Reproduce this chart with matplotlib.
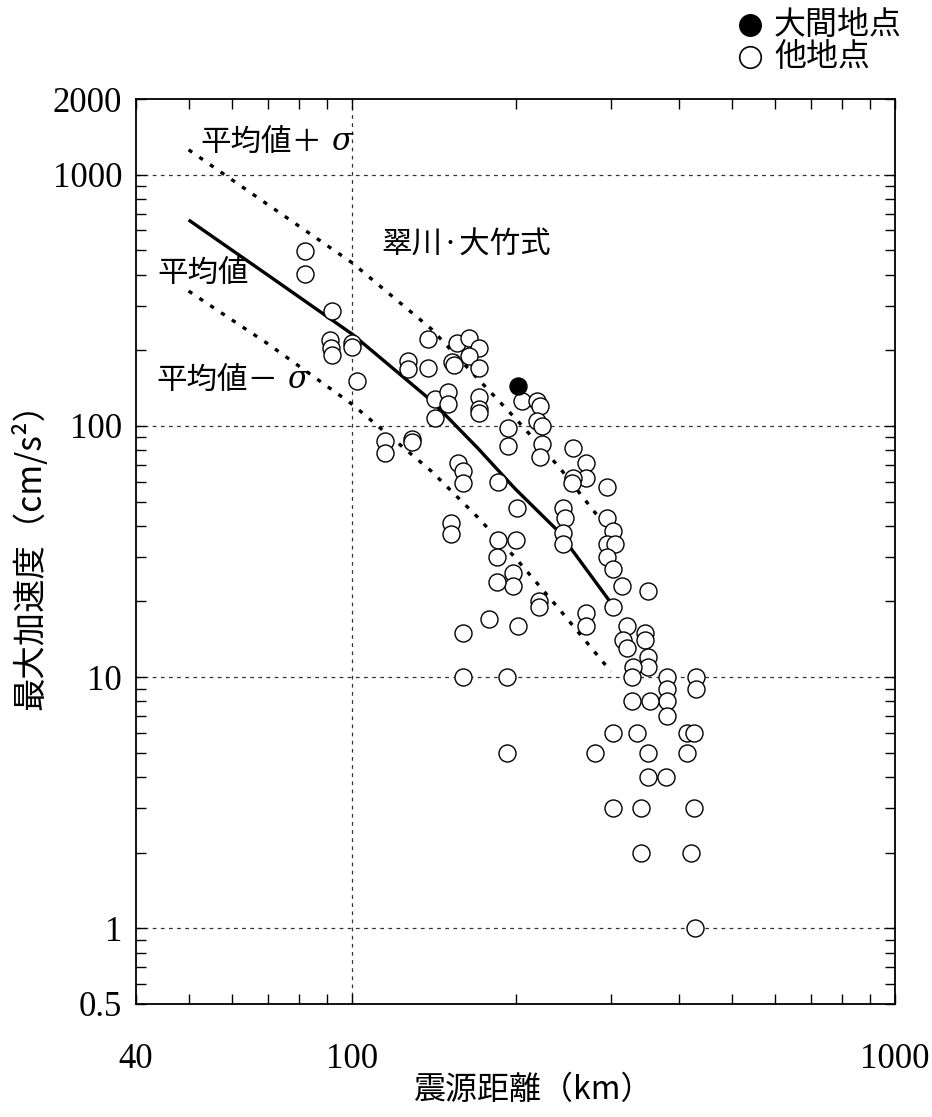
import matplotlib
matplotlib.use("Agg")
import matplotlib.pyplot as plt
from matplotlib.ticker import FixedLocator, FixedFormatter, NullFormatter

# ---- data -------------------------------------------------------------
# 他地点: hypocentral distance (km) and peak acceleration (cm/s^2)
other_dist = [82, 82, 92, 91, 91.5, 92, 100, 100, 102,
              138, 156, 164, 171, 164, 153, 154, 127, 127, 138, 171,
              142, 150, 150, 171, 171, 171, 142,
              206, 219, 222, 219, 224, 194, 194, 224, 222, 255,
              115, 115, 129, 129, 157, 160, 160, 186,
              201, 152, 152, 186, 200, 185, 198, 198, 185, 221, 221,
              245, 247, 245, 245, 270, 270, 255, 254,
              295, 295, 303, 295, 305, 295, 303, 314, 351, 303, 270, 270,
              179, 202, 160, 160, 193,
              321, 316, 321, 347, 347, 351, 351, 329, 328,
              380, 380, 380, 380, 430, 430, 328, 354,
              303, 335, 414, 427, 280, 351, 414, 193, 351, 379,
              303, 341, 427, 341, 421, 428]
other_pga = [497, 403, 287, 220, 204, 192, 214, 206, 151,
             222, 214, 224, 204, 190, 180, 175, 181, 169, 170, 170,
             128, 137, 122, 130, 117, 113, 107,
             126, 126, 120, 105, 100, 98, 83, 85, 75, 82,
             87, 78, 89, 86, 71, 66, 59, 60,
             47, 41, 37, 35, 35, 30, 26, 23, 24, 20, 19,
             47, 43, 37.5, 34, 71, 62, 62, 59,
             57, 43, 38, 34, 34, 30, 27, 23, 22, 19, 18, 16,
             17, 16, 15, 10, 10,
             16, 14, 13, 15, 14, 12, 11, 11, 10,
             10, 9, 8, 7, 10, 9, 8, 8,
             6, 6, 6, 6, 5, 5, 5, 5, 4, 4,
             3, 3, 3, 2, 2, 1]

# 大間地点
oma_dist = [202]
oma_pga = [144]

# 翠川・大竹式: mean and mean ± sigma
curve_dist = [50, 70, 100, 140, 170, 200, 240, 300]
curve_mean = [660, 398, 232, 126, 82, 56, 38, 19.7]
curve_plus = [1256, 759, 446, 243, 155, 107, 69, 37.5]
curve_minus = [344, 212, 122, 66, 43.5, 29.8, 18.8, 10.5]

y_tick_vals = [0.5, 1, 10, 100, 1000, 2000]
y_tick_text = ["0.5", "1", "10", "100", "1000", "2000"]
x_tick_vals = [40, 100, 1000]
x_tick_text = ["40", "100", "1000"]

# ---- figure -----------------------------------------------------------
W, H = 932, 1117
fig = plt.figure(figsize=(W / 100, H / 100), dpi=100)
ax = fig.add_axes([136 / W, 1 - 1004 / H, (895 - 136) / W, (1004 - 99) / H])

jp = ["Noto Sans CJK JP", "DejaVu Sans"]
num_font = "Liberation Serif"

ax.set_xscale("log")
ax.set_yscale("log")
ax.set_xlim(40, 1000)
ax.set_ylim(0.5, 2000)

# reference grid
grid_kw = dict(color="#333333", lw=0.9, dashes=(3, 3.5), zorder=1)
for yv in [1, 10, 100, 1000]:
    ax.axhline(yv, **grid_kw)
ax.axvline(100, **grid_kw)

# attenuation curves
ax.plot(curve_dist, curve_mean, color="black", lw=2.4, zorder=2,
        solid_capstyle="butt")
for yy in (curve_plus, curve_minus):
    ax.plot(curve_dist, yy, color="black", lw=2.4, zorder=2,
            linestyle=(0, (1.3, 2.6)))

# observations
ax.scatter(other_dist, other_pga, s=150, facecolor="white",
           edgecolor="black", linewidth=1.0, zorder=3)
ax.scatter(oma_dist, oma_pga, s=150, facecolor="black",
           edgecolor="black", linewidth=1.0, zorder=4)

# ticks
minor_x = [v * d for d in (10, 100) for v in range(2, 10) if 40 < v * d < 1000]
minor_y = [v * d for d in (0.1, 1, 10, 100) for v in range(2, 10)
           if 0.5 < v * d < 1000]
ax.xaxis.set_major_locator(FixedLocator(x_tick_vals))
ax.xaxis.set_major_formatter(FixedFormatter(x_tick_text))
ax.xaxis.set_minor_locator(FixedLocator(minor_x))
ax.xaxis.set_minor_formatter(NullFormatter())
ax.yaxis.set_major_locator(FixedLocator(y_tick_vals))
ax.yaxis.set_major_formatter(FixedFormatter(y_tick_text))
ax.yaxis.set_minor_locator(FixedLocator(minor_y))
ax.yaxis.set_minor_formatter(NullFormatter())

ax.tick_params(which="both", direction="in", top=True, right=True,
               width=1.0, color="black")
ax.tick_params(which="major", length=7)
ax.tick_params(which="minor", length=7)
ax.tick_params(axis="x", which="major", pad=28)
ax.tick_params(axis="y", which="major", pad=10)
for lab in ax.get_xticklabels() + ax.get_yticklabels():
    lab.set_fontfamily(num_font)
    lab.set_fontsize(25)

for sp in ax.spines.values():
    sp.set_linewidth(1.3)


def ftext(x, y, s, **kw):
    fig.text(x / W, 1 - y / H, s, va="center", **kw)


# curve labels
ftext(200, 142, "平均値＋", family=jp, fontsize=22)
ftext(331, 142, "σ", family="DejaVu Serif", style="italic", fontsize=22)
ftext(381, 245, "翠川·大竹式", family=jp, fontsize=22)
ftext(157, 273, "平均値", family=jp, fontsize=22)
ftext(156, 380, "平均値－", family=jp, fontsize=22)
ftext(287, 380, "σ", family="DejaVu Serif", style="italic", fontsize=22)

# axis titles
ftext(534, 1090, "震源距離（km）", family=jp, fontsize=23, ha="center")
fig.text(30 / W, 1 - 548 / H, "最大加速度（cm/s²）", family=jp, fontsize=24,
         rotation=90, ha="center", va="center")

# legend
fig.add_artist(plt.Line2D([750 / W], [1 - 25 / H], marker="o", ms=15.5,
                          mfc="black", mec="black", transform=fig.transFigure))
fig.add_artist(plt.Line2D([750 / W], [1 - 57 / H], marker="o", ms=15.5,
                          mfc="white", mec="black", mew=1.2,
                          transform=fig.transFigure))
ftext(774, 25, "大間地点", family=jp, fontsize=23)
ftext(774, 57, "他地点", family=jp, fontsize=23)

fig.savefig("out.png", dpi=100)
